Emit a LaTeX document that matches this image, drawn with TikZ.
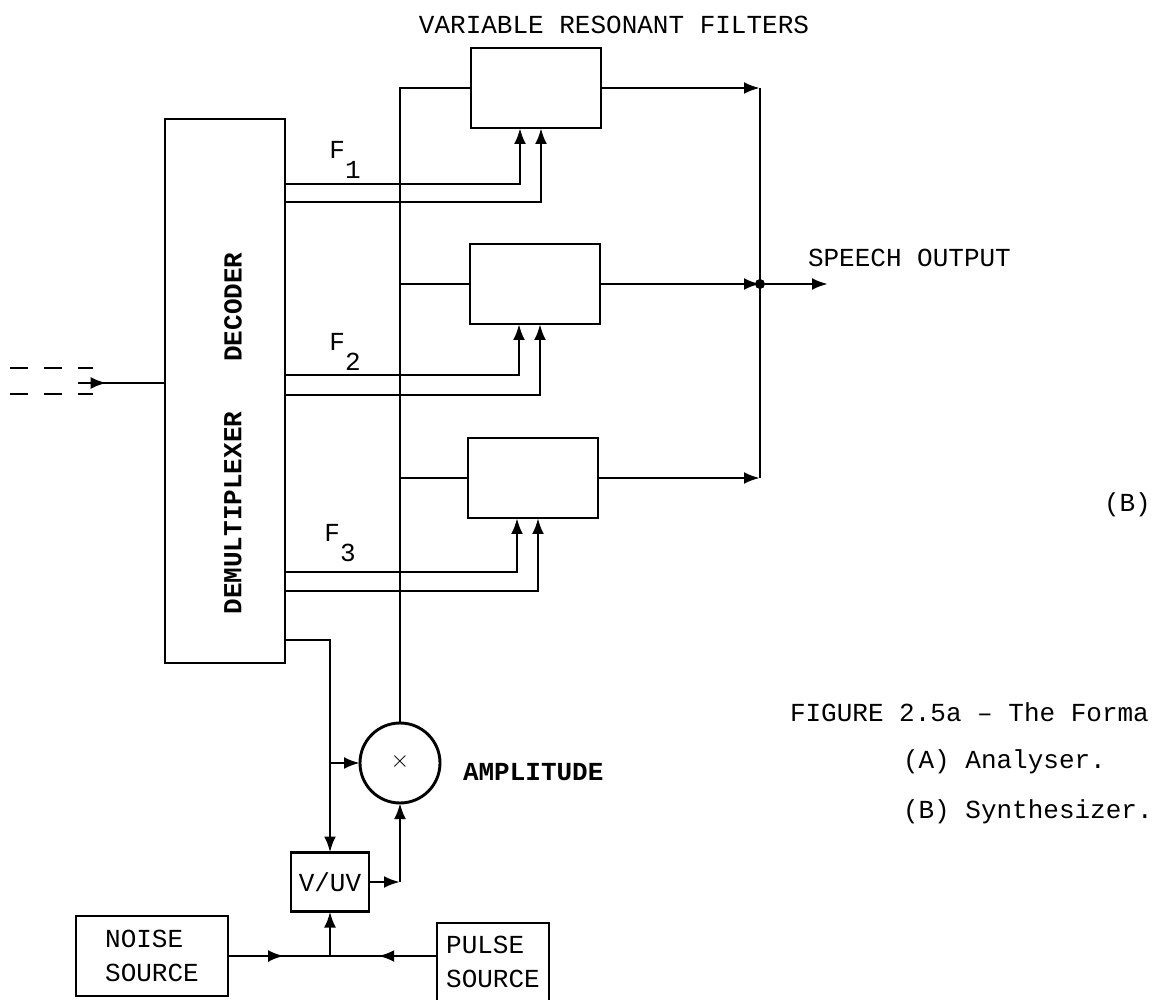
\documentclass[tikz,border=0pt]{standalone}
\usepackage{fontspec}
\setmainfont{Liberation Mono}
\usetikzlibrary{calc,arrows.meta,decorations.markings}

\begin{document}
\begin{tikzpicture}[
  x=0.5pt, y=-0.5pt,
  line width=1.45pt,
  every node/.style={font=\fontsize{13}{17}\selectfont, inner sep=0pt, outer sep=0pt},
  bf/.style={font=\fontsize{13}{17}\selectfont\bfseries},
  filt/.style={draw, minimum width=65pt, minimum height=40pt},
  arr/.style={-{Latex[length=8pt,width=6pt]}},
  midarr/.style={decoration={markings, mark=at position #1 with {\arrow{Latex[length=8pt,width=6pt]}}}, postaction={decorate}},
  dot/.style={circle, fill, minimum size=5pt}
]
\useasboundingbox (0,0) rectangle (1153,1000);

\node[filt] (f1) at (536,88) {};
\node[filt] (f2) at (535,284) {};
\node[filt] (f3) at (533,478) {};
\node[draw, minimum width=60pt, minimum height=272pt] (dmx) at (225,391) {};
\node[bf, rotate=90] (dec) at (233,307) {DECODER};
\node[bf, rotate=90] (dem) at (233,513) {DEMULTIPLEXER};
\node[circle, draw, minimum size=40pt] (amp) at (400,763) {\raisebox{3pt}{$\times$}};
\node[draw, minimum width=39pt, minimum height=29.5pt] (vuv) at (330,882) {V/UV};
\node[draw, minimum width=76pt, minimum height=40pt, align=left] (noise) at (152,956) {NOISE\\SOURCE};
\node[draw, minimum width=56pt, minimum height=39pt, align=left] (pulse) at (493,962) {PULSE\\SOURCE};

\node (ttl) at (614,25) {VARIABLE RESONANT FILTERS};
\node[anchor=west] (spo) at (808,258) {SPEECH OUTPUT};
\node[bf, anchor=west] (lamp) at (463,772) {AMPLITUDE};
\node (lf1) at (345,160) {F\raisebox{-0.75em}{1}};
\node (lf2) at (345,352) {F\raisebox{-0.75em}{2}};
\node (lf3) at (340,543) {F\raisebox{-0.75em}{3}};
\node[anchor=west] (lb) at (1104,505) {(B)};
\node[anchor=west] (cap) at (790,712) {FIGURE 2.5a -- The Forma};
\node[anchor=west] (capa) at (903,762) {(A) Analyser.};
\node[anchor=west] (capb) at (903,812) {(B) Synthesizer.};

\coordinate (bm) at (760,284);
\coordinate (out) at (828,284);
\coordinate (in0) at (78,383);
\coordinate (jn) at (vuv.south |- noise.east);

% input
\draw[dash pattern=on 9pt off 8pt] (10,368) -- (93,368);
\draw[dash pattern=on 9pt off 8pt] (10,394) -- (93,394);
\draw[midarr=0.33] (in0) -- (dmx.west |- in0);

% formant controls
\draw[arr] (dmx.east |- 0,184) -| ([xshift=-8pt]f1.south);
\draw[arr] (dmx.east |- 0,202) -| ([xshift=2.5pt]f1.south);
\draw[arr] (dmx.east |- 0,375) -| ([xshift=-8pt]f2.south);
\draw[arr] (dmx.east |- 0,395) -| ([xshift=2.5pt]f2.south);
\draw[arr] (dmx.east |- 0,572) -| ([xshift=-8pt]f3.south);
\draw[arr] (dmx.east |- 0,591) -| ([xshift=2.5pt]f3.south);

% excitation
\draw (amp.north) |- (f1.west);
\draw (amp.north |- f2.west) -- (f2.west);
\draw (amp.north |- f3.west) -- (f3.west);
\draw[arr] (dmx.east |- 0,640) -| (vuv.north);
\draw[arr] (vuv.north |- amp.west) -- (amp.west);
\draw[arr] (vuv.east) -- (amp.south |- vuv.east);
\draw[arr] (amp.south |- vuv.east) -- (amp.south);
\draw[midarr=0.55] (noise.east) -- (jn);
\draw[midarr=0.55] (pulse.west |- noise.east) -- (jn);
\draw[arr] (jn) -- (vuv.south);

% output
\draw[arr] (f1.east) -- (f1.east -| bm);
\draw[arr] (f2.east) -- (bm);
\draw[arr] (f3.east) -- (f3.east -| bm);
\draw (f1.east -| bm) -- (f3.east -| bm);
\node[dot] (jo) at (bm) {};
\draw[arr] (jo) -- (out);
\end{tikzpicture}
\end{document}
